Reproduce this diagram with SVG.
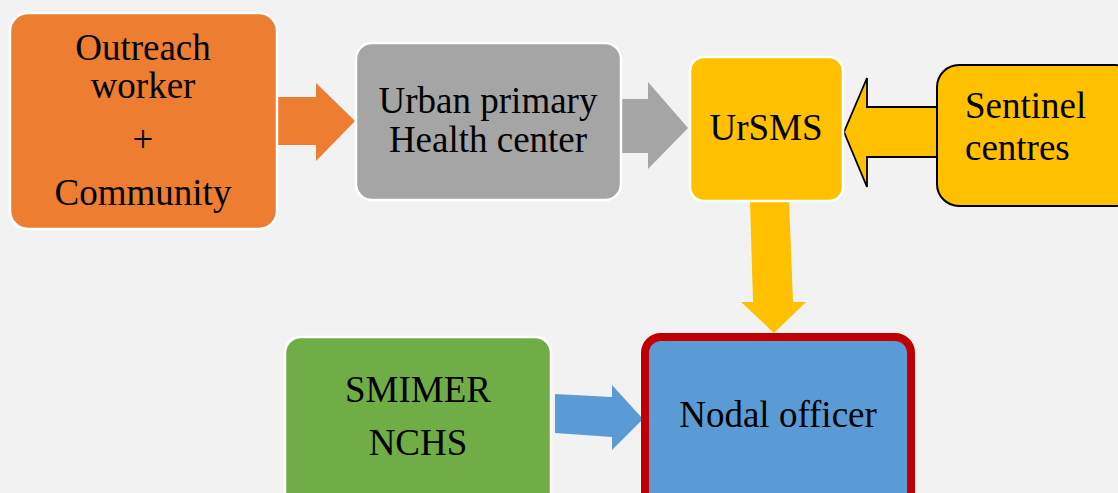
<svg xmlns="http://www.w3.org/2000/svg" width="1118" height="493" viewBox="0 0 1118 493">
<style>
text{font-family:"Liberation Serif","Times New Roman",serif;font-size:37px;fill:#000;text-anchor:middle}
.box{stroke:#fff;stroke-width:2.5}
</style>
<rect width="1118" height="493" fill="#f2f2f2"/>
<g id="connectors">
<polygon points="276,97 316,97 316,83 355,121 316,161 316,145 276,145" fill="#ed7d31"/>
<polygon points="620,99 648,99 648,82 688,128 648,169 648,153 620,153" fill="#a5a5a5"/>
<polygon points="938,107 867,107 867,78 844,132 867,187 867,157 938,157" fill="#ffc000" stroke="#000" stroke-width="1.8"/>
<polygon points="750,200 789,200 793,302 806,302 774,333 741,302 753,302" fill="#ffc000"/>
<polygon points="555,394 612,397 612,385 643,419 612,450 612,437 555,433" fill="#5b9bd5"/>
</g>
<g id="outreach">
<rect class="box" x="10" y="13" width="267" height="216" rx="18" fill="#ed7d31"/>
<text x="143" y="60">Outreach</text>
<text x="143" y="98">worker</text>
<text x="143" y="152">+</text>
<text x="143" y="205">Community</text>
</g>
<g id="uphc">
<rect class="box" x="356" y="43" width="265" height="157" rx="16" fill="#a5a5a5"/>
<text x="488" y="113">Urban primary</text>
<text x="488" y="152">Health center</text>
</g>
<g id="ursms">
<rect class="box" x="690" y="57" width="153" height="144" rx="14" fill="#ffc000"/>
<text x="766" y="140">UrSMS</text>
</g>
<g id="sentinel">
<rect x="937" y="65" width="200" height="141" rx="22" fill="#ffc000" stroke="#000" stroke-width="2"/>
<text x="965" y="118" style="text-anchor:start">Sentinel</text>
<text x="965" y="160" style="text-anchor:start">centres</text>
</g>
<g id="smimer">
<rect class="box" x="285" y="337" width="266" height="180" rx="16" fill="#70ad47"/>
<text x="418" y="402">SMIMER</text>
<text x="418" y="455">NCHS</text>
</g>
<g id="nodal">
<rect x="645" y="337" width="266" height="180" rx="16" fill="#5b9bd5" stroke="#c00000" stroke-width="8"/>
<text x="778" y="427">Nodal officer</text>
</g>
</svg>
